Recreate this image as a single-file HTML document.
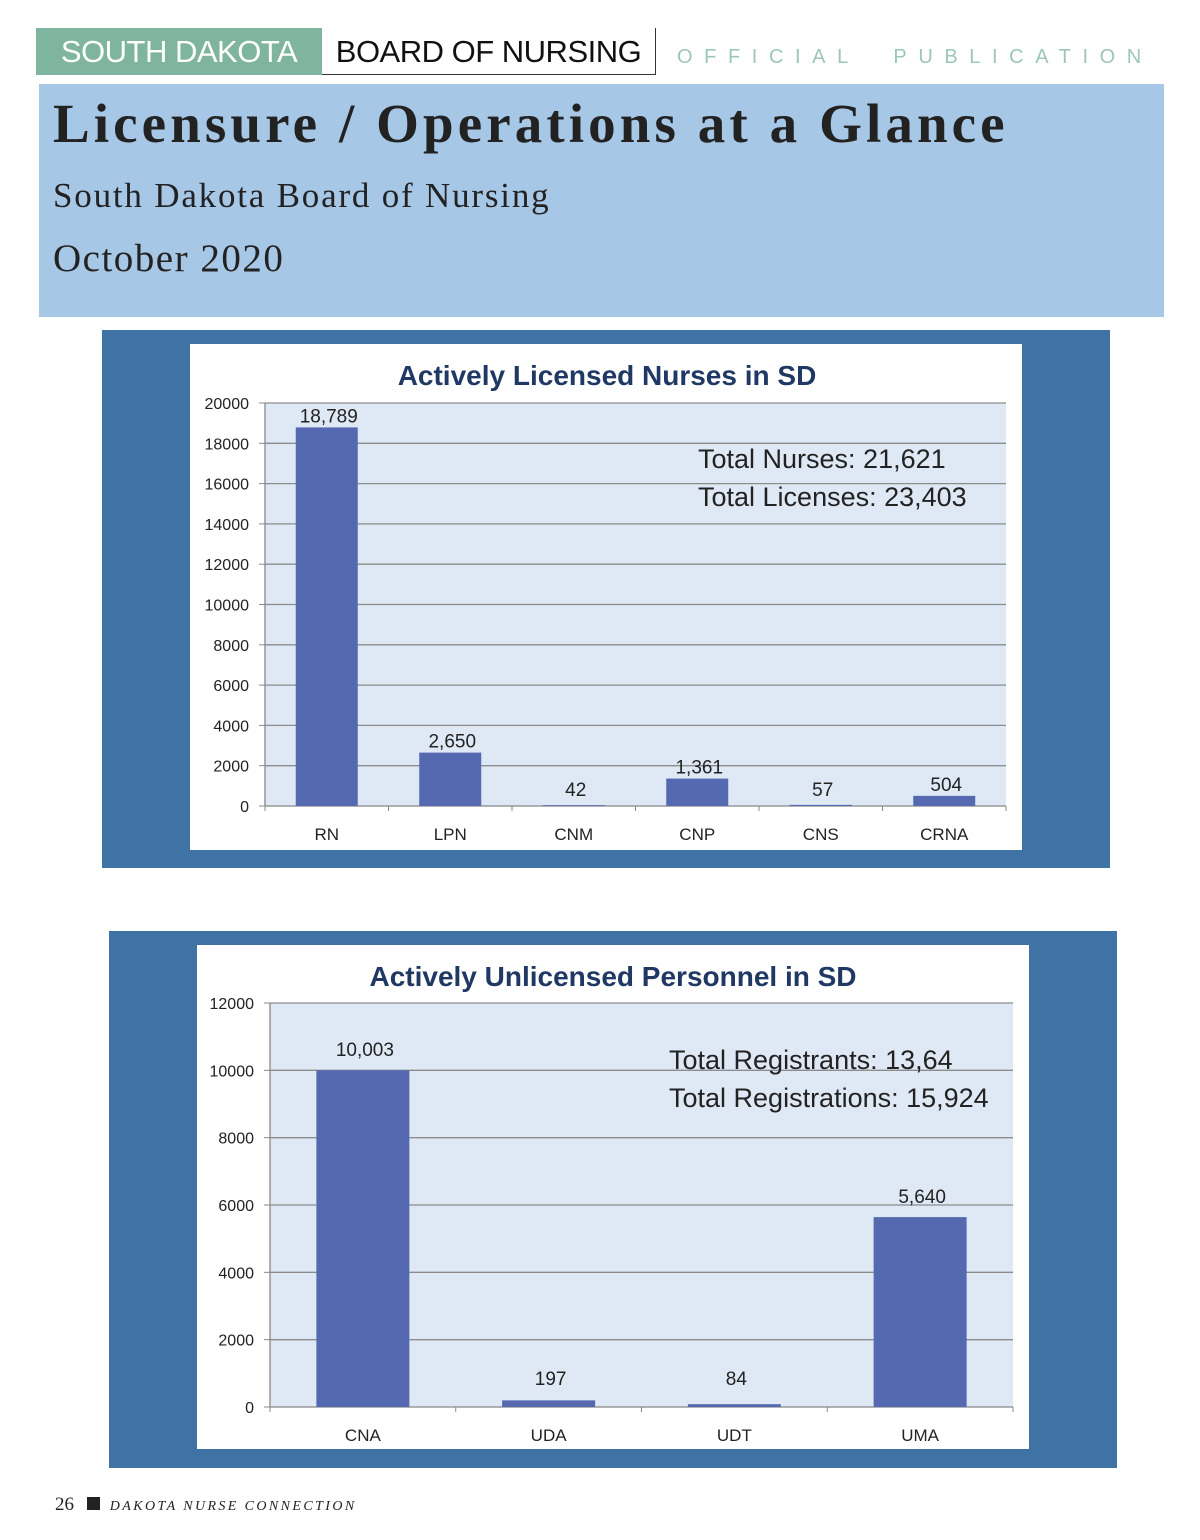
<!DOCTYPE html>
<html><head><meta charset="utf-8"><style>
body{margin:0;width:1200px;height:1540px;background:#fff;position:relative;overflow:hidden;font-family:"Liberation Sans",sans-serif}
.abs{position:absolute;white-space:nowrap}
</style></head><body>
<div class="abs" style="left:36px;top:28px;width:286px;height:47px;background:#7fb59f;color:#fff;font-size:31px;line-height:47px;text-align:center;letter-spacing:-0.5px">SOUTH DAKOTA</div>
<div class="abs" style="left:322px;top:28px;width:333px;height:46px;border-right:1px solid #333;border-bottom:1px solid #333;color:#111;font-size:31px;line-height:47px;text-align:center;letter-spacing:-0.5px">BOARD OF NURSING</div>
<div class="abs" style="left:677px;top:46px;color:#9cc7b6;font-size:20px;letter-spacing:11.6px">OFFICIAL &nbsp;PUBLICATION</div>
<div class="abs" style="left:39px;top:84px;width:1125px;height:233px;background:#a7c7e7"></div>
<div class="abs" style="left:53px;top:92px;font-family:'Liberation Serif',serif;font-weight:bold;font-size:55px;color:#222;letter-spacing:4.1px">Licensure / Operations at a Glance</div>
<div class="abs" style="left:53px;top:176px;font-family:'Liberation Serif',serif;font-size:35px;color:#222;letter-spacing:1.8px">South Dakota Board of Nursing</div>
<div class="abs" style="left:53px;top:236px;font-family:'Liberation Serif',serif;font-size:39px;color:#222;letter-spacing:1.5px">October 2020</div>

<svg class="abs" style="left:0;top:0" width="1200" height="1540" id="svg"></svg>

<div class="abs" style="left:55px;top:1494px;font-family:'Liberation Serif',serif;font-size:19px;color:#222">26 <span style="display:inline-block;width:13px;height:13px;background:#222;margin:0 10px 0 8px"></span><i style="font-size:14px;letter-spacing:2.4px">DAKOTA NURSE CONNECTION</i></div>

<script>
const cats1=["RN","LPN","CNM","CNP","CNS","CRNA"];
const vals1=[18789,2650,42,1361,57,504];
const labels1=["18,789","2,650","42","1,361","57","504"];
const ticks1=[0,2000,4000,6000,8000,10000,12000,14000,16000,18000,20000];
const cats2=["CNA","UDA","UDT","UMA"];
const vals2=[10003,197,84,5640];
const labels2=["10,003","197","84","5,640"];
const ticks2=[0,2000,4000,6000,8000,10000,12000];
const NS="http://www.w3.org/2000/svg";
const svg=document.getElementById('svg');
function mk(t,a,p){const e=document.createElementNS(NS,t);for(const k in a)e.setAttribute(k,a[k]);(p||svg).appendChild(e);return e;}
function chart(c){
  const g=mk('g',{});
  
  
  const o=mk('rect',{x:c.ox,y:c.oy,width:c.ow,height:c.oh,fill:'#3f72a5'},g);
  
  const w=mk('rect',{x:c.wx,y:c.wy,width:c.ww,height:c.wh,fill:'#fff'},g);
  
  mk('rect',{x:c.px,y:c.top,width:c.pw,height:c.bot-c.top,fill:'#dfe9f5'},g);
  const max=c.ticks[c.ticks.length-1];
  const y=v=>c.bot-(v/max)*(c.bot-c.top);
  const step=c.pw/c.cats.length;
  const x=i=>c.px+step*(i+0.5);
  c.ticks.forEach(t=>{
    if(t>0){const l=mk('line',{x1:c.px,x2:c.px+c.pw,y1:y(t),y2:y(t),stroke:'#8c8c8c','stroke-width':1.3},g);}
    mk('line',{x1:c.px-6,x2:c.px,y1:y(t),y2:y(t),stroke:'#888'},g);
    const tx=mk('text',{x:c.px-16,y:y(t)+6,'text-anchor':'end','font-size':16,fill:'#222'},g);tx.textContent=t;
    
  });
  mk('line',{x1:c.px,x2:c.px,y1:c.top,y2:c.bot,stroke:'#888','stroke-width':1.3},g);
  mk('line',{x1:c.px,x2:c.px+c.pw,y1:c.bot,y2:c.bot,stroke:'#888','stroke-width':1.3},g);
  for(let i=0;i<=c.cats.length;i++)mk('line',{x1:c.px+step*i,x2:c.px+step*i,y1:c.bot,y2:c.bot+5,stroke:'#888'},g);
  c.vals.forEach((v,i)=>{
    const b=mk('rect',{x:x(i)-c.bw/2,y:y(v),width:c.bw,height:c.bot-y(v),fill:'#5469b0'},g);
    
    const lt=mk('text',{x:x(i)+2,y:Math.min(y(v)-c.gap,c.bot-c.minLab),'text-anchor':'middle','font-size':19,fill:'#222'},g);lt.textContent=c.labels[i];
    
    const ct=mk('text',{x:x(i),y:c.bot+34,'text-anchor':'middle','font-size':17,fill:'#222'},g);ct.textContent=c.cats[i];
    
  });
  const tt=mk('text',{x:c.tx,y:c.ty,'text-anchor':'middle','font-size':28,'font-weight':'bold',fill:'#1f3864'},g);tt.textContent=c.title;
  
  c.notes.forEach((n,i)=>{const t=mk('text',{x:c.nx,y:c.ny+i*38,'font-size':27,fill:'#222'},g);t.textContent=n;
    });
}
chart({name:'nurses-chart',ox:102,oy:330,ow:1008,oh:538,wx:190,wy:344,ww:832,wh:506,px:265,pw:741,top:403,bot:806,bw:62,gap:5,
  cats:cats1,vals:vals1,labels:labels1,ticks:ticks1,minLab:10,title:'Actively Licensed Nurses in SD',tx:607,ty:385,
  notes:['Total Nurses: 21,621','Total Licenses: 23,403'],nx:698,ny:468});
chart({name:'unlicensed-chart',ox:109,oy:931,ow:1008,oh:537,wx:197,wy:945,ww:832,wh:504,px:270,pw:743,top:1003,bot:1407,bw:93,gap:14,
  cats:cats2,vals:vals2,labels:labels2,ticks:ticks2,minLab:22,title:'Actively Unlicensed Personnel in SD',tx:613,ty:986,
  notes:['Total Registrants: 13,64','Total Registrations: 15,924'],nx:669,ny:1069});
</script>
</body></html>
